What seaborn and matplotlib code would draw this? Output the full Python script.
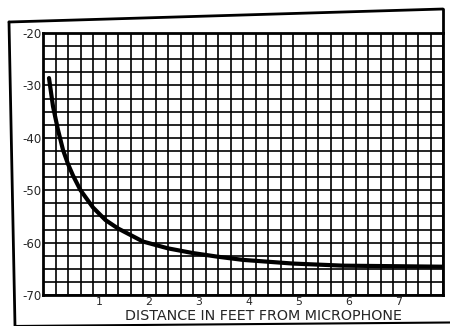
import numpy as np
import pandas as pd
import matplotlib.pyplot as plt
import seaborn as sns
from matplotlib.lines import Line2D
from matplotlib.transforms import ScaledTranslation

# values
distance_ft = [0.12, 0.2, 0.3, 0.4, 0.5, 0.6, 0.75, 1.0, 1.25, 1.5, 2.0, 2.5,
               3.0, 3.5, 4.0, 5.0, 6.0, 7.0, 8.0]
level_db = [-28.6, -34.0, -38.5, -42.3, -45.0, -47.2, -50.0, -53.3, -55.7, -57.3, -59.8, -61.1,
            -62.0, -62.7, -63.3, -64.0, -64.4, -64.5, -64.6]
x_ticks = [1, 2, 3, 4, 5, 6, 7]
x_tick_labels = ["1", "2", "3", "4", "5", "6", "7"]
y_ticks = [-20, -30, -40, -50, -60, -70]
y_tick_labels = ["-20", "-30", "-40", "-50", "-60", "-70"]

df = pd.DataFrame({"dist": distance_ft, "db": level_db})

sns.set_style("white")
plt.rcParams["font.family"] = ["DejaVu Sans"]

fig = plt.figure(figsize=(4.5, 3.26), dpi=100)
ax = fig.add_axes([43 / 450, 1 - 295 / 326, 400 / 450, 262 / 326])

sns.lineplot(data=df, x="dist", y="db", color="black", lw=3, ax=ax)

ax.set_xlim(0, 8)
ax.set_ylim(-70, -20)
ax.set_xticks(x_ticks, x_tick_labels)
ax.set_yticks(y_ticks, y_tick_labels)
ax.set_xticks(np.arange(0, 8.01, 0.25), minor=True)
ax.set_yticks(np.arange(-70, -19.9, 2.5), minor=True)
ax.grid(which="both", color="black", lw=1.2)
ax.tick_params(which="both", length=0)
ax.tick_params(axis="y", pad=1, labelsize=8.5)
ax.tick_params(axis="x", pad=1.5, labelsize=7.8)
# hand lettered digits sit a little right of their grid lines
shift = ScaledTranslation(6 / 100, 0, fig.dpi_scale_trans)
for lab in ax.get_xticklabels():
    lab.set_transform(lab.get_transform() + shift)
ax.set_xlabel("DISTANCE IN FEET FROM MICROPHONE", fontsize=10.3)
ax.xaxis.set_label_coords(0.55, -0.053)
ax.set_ylabel("")
for s in ax.spines.values():
    s.set_linewidth(2)
    s.set_color("black")

# outer frame of the scanned figure
W, H = 450, 326
def fline(x0, y0, x1, y1, lw=2):
    fig.add_artist(Line2D([x0 / W, x1 / W], [1 - y0 / H, 1 - y1 / H], color="black", lw=lw))
fline(9, 22, 443, 9)
fline(9, 22, 15, 326)
fline(443, 9, 443, 33)
fline(15, 326, 450, 322.5, lw=1.5)

fig.savefig("out.png", dpi=100)
